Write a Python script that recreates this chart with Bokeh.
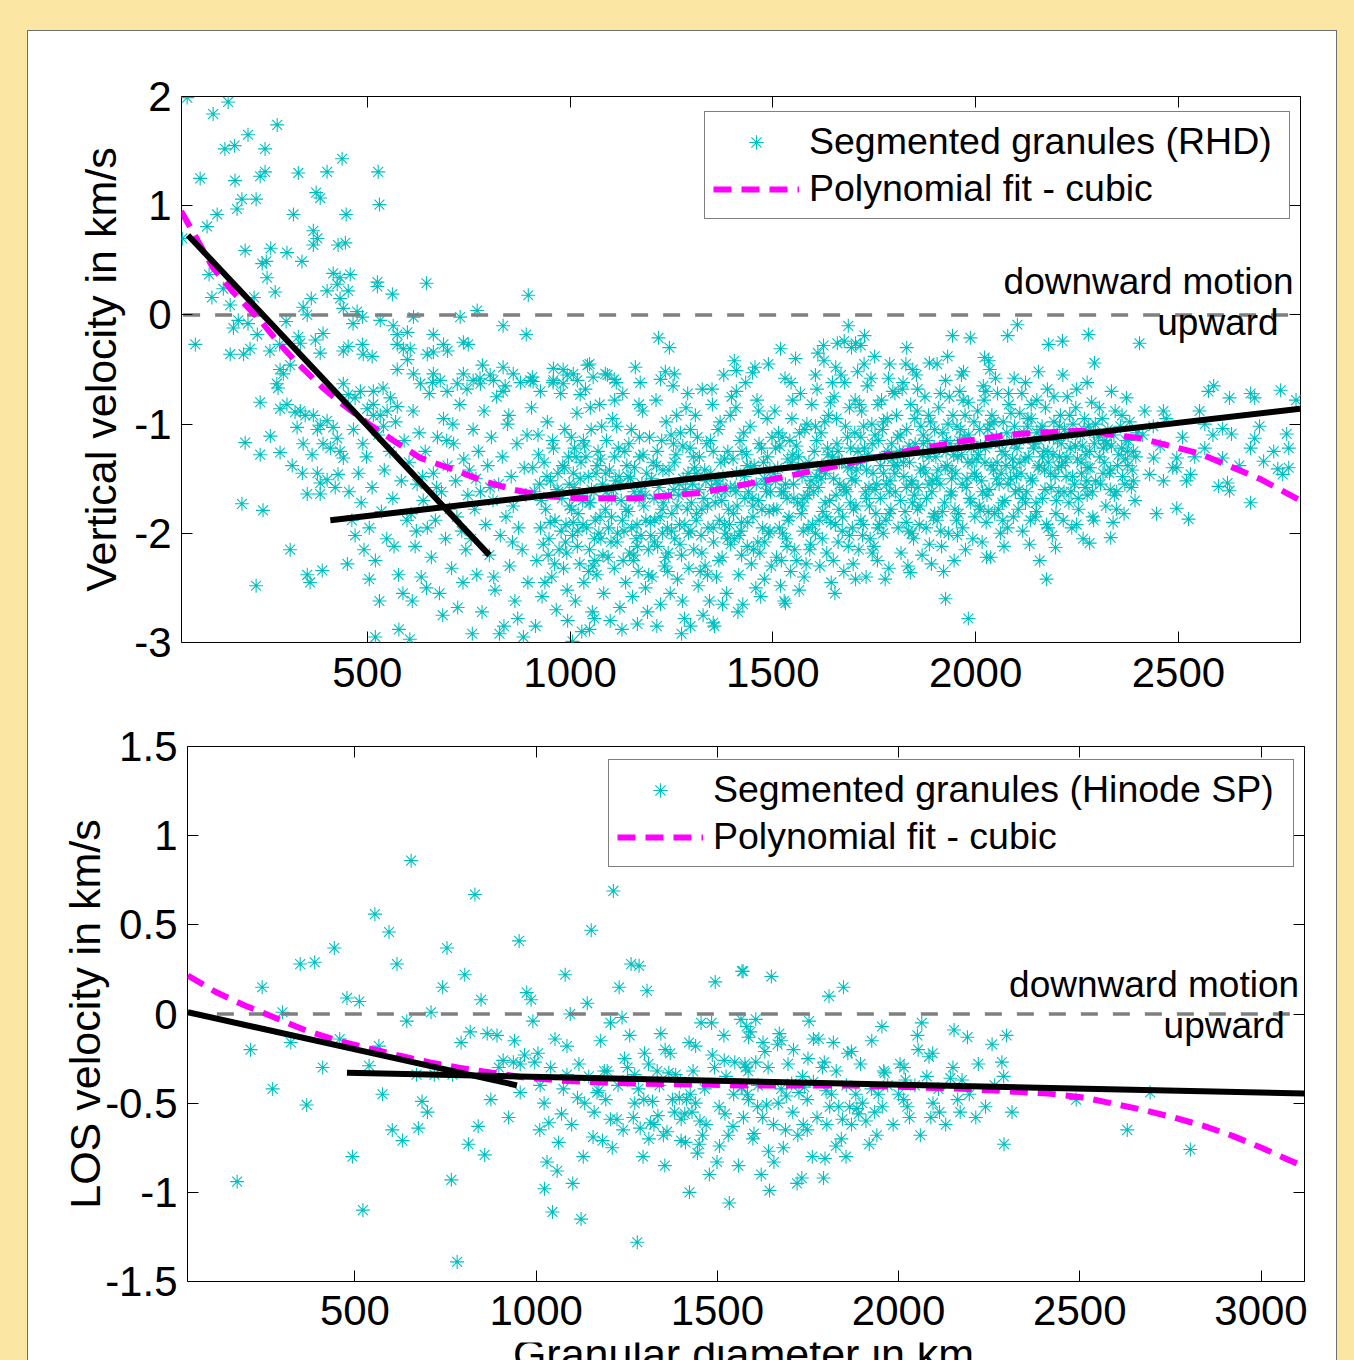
from bokeh.plotting import figure
from bokeh.models import Range1d, LinearAxis, Legend, LegendItem, FixedTicker, Label
from bokeh.layouts import column, row
from bokeh.embed import file_html
from bokeh.resources import INLINE

FONT = "Liberation Sans"
CYAN = "#00BFBF"
MAGENTA = "#FF00FF"
GRAY = "#7F7F7F"
YELLOW = "#FCE6A4"

# ---------------- data: RHD (top panel) ----------------
rhd_upper_left = [(56,1.99),(120,1.84),(157,1.95),(149,1.52),(173,1.55),(206,1.65),(248,1.52),(278,1.74),(88,1.25),(174,1.23),
(236,1.27),(248,1.31),(330,1.30),(401,1.31),(438,1.43),(527,1.31),(191,1.06),(226,1.06),(179,0.97),(130,0.92),(105,0.81),(44,0.70),
(318,0.92),(374,1.12),(384,1.07),(448,0.92),(530,1.01),(367,0.77),(377,0.70),(367,0.64),(428,0.64),(446,0.66),(199,0.59),(262,0.61),
(302,0.57),(339,0.49),(241,0.47),(251,0.49),(253,0.34),(273,0.21),(110,0.37),(117,0.16),(145,0.24),(162,0.09),(221,0.16),(416,0.38),
(433,0.34),(458,0.37),(426,0.28),(401,0.22),(453,0.22),(433,0.15),(441,0.06),(525,0.30),(562,0.19),(525,0.26),(646,0.29),(897,0.18),
(342,0.07),(362,0.15),(475,0.03),(488,-0.02),(771,0.04),(729,-0.02),(76,-0.27),(170,-0.12),(182,-0.05),(206,-0.08),(229,-0.18),
(162,-0.36),(195,-0.36),(211,-0.31),(300,-0.06),(352,0.00),(465,-0.08),(532,-0.05),(564,-0.10),(574,-0.18),(599,-0.16),(614,-0.02),
(835,-0.10),(892,-0.18),(260,-0.33),(284,-0.27),(330,-0.20),(335,-0.26),(372,-0.23),(391,-0.17),(384,-0.35),(441,-0.33),(453,-0.29),
(488,-0.27),(490,-0.36),(512,-0.38),(574,-0.27),(589,-0.31),(606,-0.31),(599,-0.41),(663,-0.18),(688,-0.27),(698,-0.33),(663,-0.34),
(648,-0.36),(737,-0.25),(749,-0.27),(784,-0.46),(803,-0.55),(835,-0.48),(840,-0.65),(907,-0.57),(909,-0.61),(959,-0.49),(983,-0.50),
(993,-0.55),(1043,-0.46),(1018,-0.60)]

rhd_lower_left = [(285,-0.50),(293,-0.54),(310,-0.46),(280,-0.67),(277,-0.63),(285,-0.86),(302,-0.82),(322,-0.89),(335,-0.88),(347,-0.92),
(236,-0.80),(199,-1.17),(261,-1.11),(236,-1.28),(285,-1.26),(315,-1.38),(340,-1.45),(352,-1.64),(384,-1.64),(191,-1.73),(243,-1.79),
(310,-2.15),(352,-2.38),(359,-2.45),(389,-2.34),(226,-2.48),(451,-2.28),(327,-1.03),(367,-0.92),(384,-1.01),(377,-1.05),(401,-0.97),
(416,-1.03),(426,-1.13),(342,-1.18),(364,-1.28),(391,-1.18),(409,-1.22),(433,-1.25),(441,-1.31),(377,-1.45),(401,-1.51),(421,-1.58),
(384,-1.54),(428,-1.46),(441,-0.63),(453,-0.73),(470,-0.76),(483,-0.70),(500,-0.86),(515,-0.82),(532,-0.92),(549,-0.88),(574,-0.84),
(515,-0.70),(539,-0.67),(557,-0.76),(574,-0.50),(614,-0.54),(631,-0.63),(663,-0.54),(680,-0.60),(697,-0.70),(722,-0.63),(737,-0.54),
(761,-0.60),(779,-0.63),(811,-0.60),(835,-0.70),(860,-0.54),(902,-0.60),(927,-0.70),(959,-0.60),(983,-0.63),(1008,-0.54),(1025,-0.73),
(1057,-0.57),(520,-2.95),(578,-2.88),(605,-2.97),
(455,-1.62),(462,-1.88),(470,-2.02),(478,-1.45),(485,-1.72),(492,-2.15),(498,-1.30),(505,-1.95),(512,-1.58),(520,-2.25),(527,-1.10),
(535,-1.80),(542,-1.42),(548,-2.05),(556,-1.25),(563,-1.68),(570,-0.98),(577,-2.38),(584,-1.52),(591,-1.15),(598,-1.88),(466,-1.05),
(489,-1.18),(515,-0.92),(540,-1.02),(566,-2.12),(588,-2.55),(530,-2.62),(505,-2.42),
(603,-1.35),(608,-1.82),(613,-0.88),(618,-2.12),(623,-1.55),(628,-1.08),(633,-2.40),(638,-1.70),(643,-1.25),(648,-1.95),(653,-0.72),
(658,-2.22),(663,-1.45),(668,-1.88),(673,-1.12),(678,-2.55),(683,-1.62),(688,-0.95),(693,-2.05),(698,-1.38),(703,-1.78),(708,-2.32),
(713,-1.18),(718,-1.52),(723,-2.68),(728,-0.82),(733,-1.98),(738,-1.32),(743,-2.15),(748,-1.65),(611,-2.62),(636,-1.48),(661,-0.62),
(686,-2.75),(711,-1.00),(736,-2.45),(621,-1.98),(646,-2.50),(671,-1.58),(696,-1.15),(721,-1.85),(746,-0.68),
(752,-1.42),(756,-2.05),(761,-1.05),(765,-1.78),(770,-2.38),(774,-1.25),(779,-1.62),(783,-2.72),(788,-0.88),(792,-1.92),(797,-1.38),
(801,-2.20),(806,-1.12),(810,-1.70),(815,-2.52),(819,-0.75),(824,-1.55),(828,-2.02),(833,-1.30),(837,-2.85),(842,-1.85),(846,-1.00),
(851,-2.30),(855,-1.48),(860,-1.75),(864,-2.62),(869,-1.18),(873,-1.95),(878,-0.62),(882,-2.15),(887,-1.40),(891,-1.65),(896,-2.45),
(759,-2.92),(778,-0.58),(803,-1.58),(826,-2.92),(849,-0.92),(871,-2.78),(894,-1.10),(768,-1.50),(812,-2.40),(858,-2.08),(885,-2.95)]

rhd_core_a = [(905,-0.85),(912,-1.62),(918,-2.25),(921,-1.10),(927,-1.95),(931,-2.58),(936,-1.35),(940,-1.78),(944,-0.98),(948,-2.05),
(952,-1.52),(955,-2.40),(959,-1.22),(963,-1.88),(966,-2.70),(970,-1.45),(973,-2.15),(977,-0.72),(980,-1.68),(984,-2.32),(987,-1.05),
(990,-1.92),(993,-2.52),(996,-1.30),(999,-1.75),(908,-1.40),(925,-1.55),(946,-2.20),(968,-1.60),(989,-2.08),(915,-2.85),(958,-0.62),
(938,-2.45),(982,-1.38),(994,-2.80),
(1003,-1.12),(1006,-2.02),(1010,-1.58),(1013,-2.62),(1017,-0.90),(1020,-1.82),(1024,-2.28),(1027,-1.35),(1031,-1.70),(1034,-2.45),
(1038,-0.68),(1041,-1.95),(1045,-1.48),(1048,-2.15),(1052,-1.05),(1055,-2.72),(1059,-1.62),(1062,-1.88),(1066,-2.38),(1069,-1.25),
(1073,-0.82),(1076,-2.05),(1080,-1.55),(1083,-2.55),(1087,-1.78),(1090,-1.15),(1094,-2.22),(1097,-1.42),(1008,-1.90),(1029,-2.90),
(1050,-1.72),(1071,-2.00),(1092,-0.55),(1015,-1.30),(1036,-1.20),(1057,-2.30),(1078,-1.02),(1099,-2.80),(1022,-1.65),(1064,-1.45),
(1102,-1.85),(1105,-0.95),(1109,-2.32),(1112,-1.52),(1116,-2.08),(1119,-1.22),(1123,-2.68),(1126,-1.70),(1130,-0.72),(1133,-1.98),
(1137,-2.45),(1140,-1.38),(1144,-1.80),(1147,-2.18),(1151,-1.05),(1154,-2.58),(1158,-1.62),(1161,-0.48),(1165,-1.92),(1168,-2.35),
(1172,-1.30),(1175,-2.02),(1179,-0.88),(1182,-1.75),(1186,-2.50),(1189,-1.45),(1193,-2.15),(1196,-1.12),(1107,-1.60),(1128,-2.88),
(1149,-1.50),(1170,-1.68),(1191,-2.72),(1114,-0.62),(1135,-1.25),(1156,-2.25),(1177,-1.55),(1198,-1.90),(1121,-1.48),(1163,-2.05),
(1202,-2.40),(1205,-1.35),(1209,-1.88),(1212,-0.78),(1216,-2.12),(1219,-1.58),(1223,-2.65),(1226,-1.15),(1230,-1.72),(1233,-2.30),
(1237,-0.98),(1240,-1.95),(1244,-1.42),(1247,-2.55),(1251,-1.82),(1254,-0.65),(1258,-2.05),(1261,-1.28),(1265,-2.42),(1268,-1.65),
(1272,-1.08),(1275,-2.20),(1279,-1.50),(1282,-2.78),(1286,-0.85),(1289,-1.78),(1293,-2.32),(1296,-1.22),(1207,-1.68),(1228,-2.00),
(1249,-1.10),(1270,-1.92),(1291,-1.45),(1214,-2.85),(1235,-0.52),(1256,-1.60),(1277,-2.62),(1298,-1.98),(1242,-2.18),(1263,-0.92),
(1302,-1.55),(1305,-2.15),(1309,-0.92),(1312,-1.82),(1316,-2.48),(1319,-1.30),(1323,-2.02),(1326,-0.68),(1330,-1.68),(1333,-2.30),
(1337,-1.18),(1340,-1.95),(1344,-2.62),(1347,-1.45),(1351,-0.82),(1354,-2.08),(1358,-1.72),(1361,-2.40),(1365,-1.05),(1368,-1.88),
(1372,-1.35),(1375,-2.22),(1379,-0.55),(1382,-1.62),(1386,-2.55),(1389,-1.25),(1393,-1.92),(1396,-2.10),(1307,-1.40),(1328,-2.75),
(1349,-1.58),(1370,-0.98),(1391,-1.78),(1314,-1.12),(1335,-1.52),(1356,-2.85),(1377,-1.48),(1398,-0.75),(1321,-2.35),(1363,-1.62),
(1384,-2.00),
(1402,-1.32),(1405,-2.05),(1409,-0.85),(1412,-1.75),(1416,-2.38),(1419,-1.15),(1423,-1.90),(1426,-2.65),(1430,-1.48),(1433,-0.62),
(1437,-2.12),(1440,-1.62),(1444,-1.02),(1447,-2.28),(1451,-1.85),(1454,-1.38),(1458,-2.50),(1461,-0.78),(1465,-1.70),(1468,-2.18),
(1472,-1.22),(1475,-1.95),(1479,-2.42),(1482,-1.55),(1486,-0.95),(1489,-2.00),(1493,-1.42),(1496,-2.30),(1407,-1.58),(1428,-1.08),
(1449,-1.68),(1470,-2.58),(1491,-1.80),(1414,-2.72),(1435,-1.28),(1456,-0.48),(1477,-1.35),(1498,-1.12),(1421,-1.98),(1463,-2.08),
(1484,-1.62)]

rhd_core_b = [(1502,-1.78),(1505,-0.88),(1509,-2.22),(1512,-1.40),(1516,-1.95),(1519,-2.48),(1523,-1.12),(1526,-1.62),(1530,-0.58),
(1533,-2.05),(1537,-1.32),(1540,-1.85),(1544,-2.35),(1547,-0.95),(1551,-1.55),(1554,-2.15),(1558,-1.20),(1561,-1.72),(1565,-2.52),
(1568,-0.72),(1572,-1.48),(1575,-1.98),(1579,-1.05),(1582,-2.28),(1586,-1.65),(1589,-1.35),(1593,-2.10),(1596,-0.82),(1507,-1.52),
(1528,-2.62),(1549,-1.28),(1570,-1.82),(1591,-1.58),(1514,-1.08),(1535,-1.68),(1556,-0.40),(1577,-2.40),(1598,-1.92),(1521,-2.25),
(1542,-1.15),(1563,-1.42),(1584,-1.00),
(1602,-1.25),(1605,-2.00),(1609,-0.68),(1612,-1.58),(1616,-2.30),(1619,-1.08),(1623,-1.80),(1626,-0.42),(1630,-1.45),(1633,-2.18),
(1637,-0.92),(1640,-1.70),(1644,-2.45),(1647,-1.30),(1651,-0.75),(1654,-1.92),(1658,-1.18),(1661,-2.08),(1665,-1.55),(1668,-0.55),
(1672,-1.85),(1675,-2.35),(1679,-1.02),(1682,-1.62),(1686,-2.12),(1689,-0.85),(1693,-1.40),(1696,-1.95),(1607,-1.48),(1628,-0.98),
(1649,-2.25),(1670,-1.35),(1691,-1.72),(1614,-1.88),(1635,-1.22),(1656,-1.65),(1677,-0.62),(1698,-2.28),(1621,-1.38),(1642,-0.80),
(1663,-1.78),(1684,-1.12),(1611,-0.35),(1653,-2.55),(1695,-1.50),
(1702,-1.08),(1705,-1.75),(1709,-0.52),(1712,-2.15),(1716,-1.35),(1719,-0.88),(1723,-1.92),(1726,-1.22),(1730,-2.40),(1733,-0.65),
(1737,-1.58),(1740,-2.05),(1744,-1.00),(1747,-1.45),(1751,-0.38),(1754,-1.82),(1758,-2.25),(1761,-1.15),(1765,-1.68),(1768,-0.78),
(1772,-2.00),(1775,-1.30),(1779,-1.88),(1782,-0.95),(1786,-2.32),(1789,-1.52),(1793,-1.18),(1796,-0.70),(1707,-1.42),(1728,-1.62),
(1749,-2.12),(1770,-1.05),(1791,-1.78),(1714,-0.82),(1735,-1.28),(1756,-1.55),(1777,-2.42),(1798,-1.38),(1721,-2.02),(1742,-0.58),
(1763,-1.92),(1784,-1.25),(1717,-0.28),(1752,-1.10),(1788,-0.45),
(1802,-1.62),(1805,-0.92),(1809,-1.95),(1812,-1.25),(1816,-2.18),(1819,-0.68),(1823,-1.48),(1826,-1.80),(1830,-1.05),(1833,-2.30),
(1837,-1.35),(1840,-0.82),(1844,-1.72),(1847,-2.05),(1851,-1.18),(1854,-0.55),(1858,-1.58),(1861,-1.92),(1865,-1.02),(1868,-2.20),
(1872,-1.40),(1875,-0.75),(1879,-1.68),(1882,-1.15),(1886,-2.10),(1889,-0.98),(1893,-1.52),(1896,-1.85),(1807,-1.38),(1828,-0.45),
(1849,-1.65),(1870,-1.28),(1891,-2.28),(1814,-1.10),(1835,-1.98),(1856,-0.88),(1877,-1.45),(1898,-1.22),(1821,-0.62),(1842,-1.55),
(1863,-1.75),(1884,-0.92),
(1902,-1.30),(1905,-1.88),(1909,-0.85),(1912,-1.55),(1916,-2.12),(1919,-1.08),(1923,-1.72),(1926,-0.60),(1930,-1.38),(1933,-2.00),
(1937,-1.18),(1940,-1.62),(1944,-0.92),(1947,-2.25),(1951,-1.45),(1954,-1.02),(1958,-1.82),(1961,-0.70),(1965,-1.28),(1968,-1.95),
(1972,-1.12),(1975,-2.15),(1979,-1.50),(1982,-0.80),(1986,-1.68),(1989,-1.22),(1993,-2.05),(1996,-0.98),(1907,-1.42),(1928,-1.15),
(1949,-1.78),(1970,-0.52),(1991,-1.35),(1914,-1.98),(1935,-0.75),(1956,-1.30),(1977,-1.58),(1998,-1.85),(1921,-2.35),(1942,-1.42),
(1963,-1.05)]

rhd_core_c = [(2002,-1.48),(2005,-0.88),(2009,-1.75),(2012,-1.20),(2016,-2.08),(2019,-0.65),(2023,-1.35),(2026,-1.90),(2030,-1.05),
(2033,-1.60),(2037,-2.22),(2040,-0.92),(2044,-1.42),(2047,-1.82),(2051,-1.12),(2054,-0.72),(2058,-1.55),(2061,-2.00),(2065,-1.25),
(2068,-0.98),(2072,-1.70),(2075,-1.38),(2079,-1.95),(2082,-0.82),(2086,-1.50),(2089,-1.15),(2093,-1.85),(2096,-1.02),(2007,-1.28),
(2028,-1.65),(2049,-0.58),(2070,-2.12),(2091,-1.32),(2014,-1.52),(2035,-1.00),(2056,-1.78),(2077,-1.08),(2098,-1.62),(2021,-0.78),
(2063,-1.45),
(2102,-1.22),(2105,-1.78),(2109,-0.90),(2112,-1.45),(2116,-1.98),(2119,-1.08),(2123,-0.62),(2126,-1.62),(2130,-1.30),(2133,-2.10),
(2137,-0.95),(2140,-1.52),(2144,-1.18),(2147,-1.85),(2151,-0.78),(2154,-1.40),(2158,-2.25),(2161,-1.05),(2165,-1.68),(2168,-1.25),
(2172,-0.85),(2175,-1.92),(2179,-1.35),(2182,-1.12),(2186,-1.58),(2189,-2.02),(2193,-0.98),(2196,-1.48),(2107,-1.60),(2128,-1.02),
(2149,-1.72),(2170,-1.42),(2191,-1.28),(2114,-0.72),(2135,-1.88),(2156,-1.15),(2177,-0.68),(2198,-1.82),
(2202,-1.15),(2205,-1.62),(2209,-0.92),(2212,-1.38),(2216,-1.88),(2219,-1.05),(2223,-1.48),(2226,-0.75),(2230,-1.72),(2233,-1.22),
(2237,-1.95),(2240,-1.00),(2244,-1.55),(2247,-0.85),(2251,-1.32),(2254,-1.78),(2258,-1.10),(2261,-1.45),(2265,-2.05),(2268,-0.95),
(2272,-1.28),(2275,-1.65),(2279,-1.02),(2282,-1.40),(2286,-0.80),(2289,-1.85),(2293,-1.18),(2296,-1.52),(2207,-1.30),(2228,-1.10),
(2249,-1.92),(2270,-1.58),(2291,-1.08),
(2303,-1.12),(2308,-1.55),(2312,-0.95),(2317,-1.35),(2321,-1.75),(2326,-1.05),(2330,-1.45),(2335,-1.20),(2339,-1.90),(2344,-0.88),
(2348,-1.62),(2353,-1.28),(2357,-1.02),(2362,-1.48),(2366,-1.82),(2371,-1.15),(2375,-1.38),(2380,-0.98),(2384,-1.58),(2389,-1.25),
(2393,-1.70),(2398,-1.08),(2315,-1.22),(2342,-1.65),(2369,-1.32)]

rhd_core_d = [(922,-1.28),(929,-1.70),(934,-2.10),(943,-1.48),(951,-1.90),(957,-1.15),(962,-2.28),(971,-1.62),(978,-1.98),(986,-1.40),
(992,-2.18),(998,-1.55),(1004,-1.78),(1011,-1.22),(1018,-2.12),(1025,-1.50),(1032,-1.92),(1039,-1.30),(1046,-2.35),(1053,-1.60),
(1060,-2.05),(1067,-1.38),(1074,-1.85),(1081,-2.20),(1088,-1.45),(1095,-1.95),(1103,-1.68),(1110,-1.30),(1117,-2.00),(1124,-1.55),
(1131,-2.25),(1138,-1.78),(1145,-1.18),(1152,-1.95),(1159,-1.40),(1166,-2.12),(1173,-1.62),(1180,-1.28),(1187,-1.88),(1194,-2.38),
(1201,-1.50),(1208,-2.08),(1215,-1.25),(1222,-1.85),(1229,-1.42),(1236,-2.22),(1243,-1.65),(1250,-1.98),(1257,-1.35),(1264,-1.75),
(1271,-2.10),(1278,-1.20),(1285,-1.60),(1292,-2.00),(1299,-1.72),(1304,-1.30),(1311,-1.88),(1318,-1.60),(1325,-2.18),(1332,-1.42),
(1339,-1.75),(1346,-1.15),(1353,-1.95),(1360,-1.52),(1367,-2.25),(1374,-1.70),(1381,-1.32),(1388,-2.05),(1395,-1.58),(1403,-1.82),
(1410,-1.45),(1417,-2.02),(1424,-1.25),(1431,-1.68),(1438,-1.90),(1445,-1.40),(1452,-2.15),(1459,-1.55),(1466,-1.18),(1473,-1.78),
(1480,-2.08),(1487,-1.30),(1494,-1.62),(1503,-1.45),(1510,-1.78),(1517,-1.20),(1524,-2.00),(1531,-1.55),(1538,-1.88),(1545,-1.35),
(1552,-1.68),(1559,-2.25),(1566,-1.08),(1573,-1.75),(1580,-1.40),(1587,-1.95),(1594,-1.52),(1601,-1.62),(1608,-1.15),(1615,-1.42),
(1622,-2.05),(1629,-1.72),(1636,-1.28),(1643,-1.90),(1650,-1.50),(1657,-0.95),(1664,-1.35),(1671,-1.98),(1678,-1.60),(1685,-1.40),
(1692,-1.22),(1699,-1.78),(1703,-1.52),(1710,-1.25),(1717,-1.88),(1724,-1.02),(1731,-1.42),(1738,-1.75),(1745,-1.18),(1752,-1.60),
(1759,-1.95),(1766,-1.38),(1773,-0.98),(1780,-1.55),(1787,-1.82),(1794,-1.32),(1801,-1.45),(1808,-1.12),(1815,-1.70),(1822,-1.35),
(1829,-1.90),(1836,-1.20),(1843,-1.52),(1850,-0.95),(1857,-1.78),(1864,-1.42),(1871,-1.10),(1878,-1.95),(1885,-1.30),(1892,-1.62),
(1899,-1.05),(1904,-1.50),(1911,-1.22),(1918,-1.80),(1925,-1.40),(1932,-1.00),(1939,-1.65),(1946,-1.28),(1953,-1.88),(1960,-1.15),
(1967,-1.55),(1974,-0.92),(1981,-1.35),(1988,-1.72),(1995,-1.20),(2003,-1.32),(2010,-1.05),(2017,-1.62),(2024,-1.22),(2031,-1.80),
(2038,-1.38),(2045,-0.98),(2052,-1.50),(2059,-1.18),(2066,-1.72),(2073,-1.28),(2080,-1.55),(2087,-0.90),(2094,-1.40),(2101,-1.48),
(2108,-1.15),(2115,-1.68),(2122,-1.32),(2129,-0.95),(2136,-1.50),(2143,-1.22),(2150,-1.80),(2157,-1.38),(2164,-1.02),(2171,-1.60),
(2178,-1.25),(2185,-1.45),(2192,-1.12),(2199,-1.70),(2204,-1.40),(2211,-1.18),(2218,-1.62),(2225,-1.30),(2232,-0.92),(2239,-1.48),
(2246,-1.20),(2253,-1.68),(2260,-1.35),(2267,-1.05),(2274,-1.52),(2281,-1.25),(2288,-1.62),(2295,-1.00),(2306,-1.30),(2314,-1.45),
(2323,-1.18),(2332,-1.60),(2341,-1.10),(2350,-1.38),(2360,-1.22),(2368,-1.55),(2377,-1.15),(2386,-1.42),(2395,-1.30)]

rhd_core_e = [(1008,-1.45),(1019,-1.98),(1033,-1.15),(1047,-1.72),(1061,-2.25),(1075,-1.32),(1089,-1.62),(1101,-2.08),(1115,-1.02),
(1129,-1.88),(1143,-1.48),(1157,-2.20),(1171,-1.12),(1185,-1.65),(1199,-2.02),(1213,-1.38),(1227,-1.78),(1241,-2.35),(1255,-1.18),
(1269,-1.55),(1283,-1.92),(1297,-1.05),(1311,-1.45),(1325,-1.78),(1339,-2.38),(1353,-1.25),(1367,-1.55),(1381,-1.92),(1395,-0.92),
(1409,-1.62),(1423,-2.20),(1437,-1.38),(1451,-1.75),(1465,-0.88),(1479,-1.50),(1493,-1.98),(1507,-1.22),(1521,-1.62),(1535,-2.12),
(1549,-0.78),(1563,-1.30),(1577,-1.68),(1591,-2.15),(1605,-1.02),(1619,-1.50),(1633,-1.85),(1647,-0.62),(1661,-1.25),(1675,-1.58),
(1689,-2.02),(1703,-0.78),(1717,-1.12),(1731,-1.68),(1745,-2.18),(1759,-0.82),(1773,-1.45),(1787,-1.62),(1801,-0.72),(1815,-1.28),
(1829,-1.58),(1843,-2.00),(1857,-0.68),(1871,-1.18),(1885,-1.55),(1899,-1.82),(1913,-0.72),(1927,-1.25),(1941,-1.50),(1955,-2.02),
(1969,-0.78),(1983,-1.10),(1997,-1.45),(2011,-1.78),(2025,-0.70),(2039,-1.15),(2053,-1.35),(2067,-1.88),(2081,-0.72),(2095,-1.18),
(2109,-1.35),(2123,-1.72),(2137,-0.82),(2151,-1.08),(2165,-1.30),(2179,-1.95),(2193,-0.75),(2207,-1.02),(2221,-1.35),(2235,-1.62),
(2249,-0.68),(2263,-1.20),(2277,-1.40),(2291,-1.88),(2305,-0.85),(2319,-1.15),(2333,-1.42),(2347,-1.78),(2361,-0.92),(2375,-1.25),
(2389,-1.52),(1545,-0.62),(1605,-0.55),(1655,-0.48),(1725,-0.45),(1785,-0.58),(1845,-0.50),(1905,-0.45),(1965,-0.55),(2035,-0.50),
(2095,-0.58),(2155,-0.52),(2215,-0.55),(2275,-0.62),(2335,-0.70),(1410,-0.70),(1350,-0.68),(1290,-0.72),(1170,-0.82),(1110,-0.78),
(1050,-0.85)]

rhd_fringe = [(1218,-0.21),(1245,-0.30),(1519,-0.31),(1686,-0.10),(1676,-0.24),(1704,-0.26),(1726,-0.19),(1943,-0.19),(1987,-0.21),
(2079,-0.19),(2103,-0.09),(2180,-0.27),(2214,-0.24),(2278,-0.18),(2404,-0.26),(1048,-0.45),(1087,-0.54),(1109,-0.59),(1173,-0.62),
(1223,-0.59),(1257,-0.54),(1405,-0.42),(1410,-0.51),(1450,-0.53),(1489,-0.45),(1625,-0.28),(1659,-0.26),(1694,-0.30),(1830,-0.30),
(1886,-0.44),(1931,-0.38),(2022,-0.39),(2032,-0.42),(2293,-0.44),(2372,-0.76),(2587,-0.65),(2574,-0.70),(2626,-0.76),(2678,-0.72),
(2688,-0.76),(2752,-0.69),(2609,-1.04),(2631,-1.09),(2688,-1.13),(2767,-1.09),(2772,-1.22),(2710,-1.34),(2745,-1.41),(2621,-1.54),
(2599,-1.57),(2626,-1.61),(2678,-1.72),(2530,-1.46),(2496,-1.40),(2520,-1.52),(2446,-1.82),(2496,-1.77),(2525,-1.87),(2429,-1.46),
(2463,-1.52),(2486,-1.40),(2439,-1.31),(2496,-1.31),(2609,-1.31),(2565,-1.22),(2678,-1.22),(2417,-0.88),(2463,-0.88),(2552,-0.88),
(2565,-1.00),(2757,-1.46),(2772,-1.40),(1166,-2.83),(1060,-2.78),(1048,-2.88),(1275,-2.92),(1297,-2.85),(1353,-2.82),(1376,-2.65),
(1531,-2.64),(1926,-2.60),(1982,-2.78),(2175,-2.42),(1704,-2.42),(1839,-2.36),(2027,-2.22),(2281,-2.09),(2333,-2.04),(2197,-2.13),
(1006,-2.99),(2412,-1.10),(2438,-1.02),(2455,-1.20),(2470,-0.95),(2510,-1.12),(2540,-1.30),(2585,-1.10),(2650,-1.38),(2700,-1.02),
(2735,-1.25),(2790,-0.78)]

rhd_fit_x = [41,120,169,236,285,327,391,433,500,564,631,722,786,860,944,1018,1161,1319,1477,1625,1783,1943,2101,2259,2407,2552,2700,2801]
rhd_fit_y = [0.95,0.43,0.21,-0.05,-0.27,-0.44,-0.67,-0.80,-0.99,-1.15,-1.31,-1.43,-1.52,-1.60,-1.66,-1.68,-1.68,-1.63,-1.52,-1.41,-1.28,-1.17,-1.09,-1.06,-1.13,-1.27,-1.50,-1.70]
rhd_lin1_x = [58, 801]
rhd_lin1_y = [0.73, -2.20]
rhd_lin2_x = [409, 2800]
rhd_lin2_y = [-1.88, -0.86]
rhd_zero_x = [46, 2777]

# ---------------- data: Hinode SP (bottom panel) ----------------
sp_points_a = [(655,0.86),(831,0.67),(1213,0.69),(555,0.56),(594,0.46),(443,0.37),(349,0.28),(389,0.29),(616,0.28),(754,0.37),
(953,0.41),(1152,0.47),(803,0.22),(244,0.15),(742,0.15),(478,0.09),(512,0.07),(848,0.08),(974,0.12),(986,0.08),(1080,0.22),
(1141,0.06),(1262,0.28),(1284,0.27),(1229,0.15),(1306,0.13),(1494,0.18),(1568,0.24),(300,0.01),(643,-0.04),(710,0.01),(991,-0.04),
(1094,0.00),(1205,-0.05),(1237,-0.02),(1455,-0.05),(1484,-0.05),(1565,-0.03),(212,-0.20),(323,-0.16),(411,-0.30),(273,-0.42),
(367,-0.51),(458,-0.14),(566,-0.18),(539,-0.29),(576,-0.45),(685,-0.49),(700,-0.55),(603,-0.65),(631,-0.71),(675,-0.64),(493,-0.80),
(175,-0.94),(522,-1.10),(766,-0.93),(782,-1.39),(813,-0.73),(858,-0.79),(840,-0.63),(875,-0.48),(924,-0.58),(956,-0.44),(818,-0.10),
(865,-0.11),(892,-0.12),(793,-0.16),(940,-0.15),(1052,-0.14),(909,-0.26),(937,-0.27),(968,-0.23),(996,-0.27),(1011,-0.40),(1075,-0.42),
(1114,-0.47),(1134,-0.50),(1173,-0.43),(1035,-0.61),(1070,-0.56),(1010,-0.65),(1030,-0.83),(1058,-0.88),(1023,-0.98),(1101,-0.95),
(1045,-1.11),(1124,-1.15),(1157,-0.69),(1183,-0.71),(1205,-0.59),(1223,-0.59),(1279,-1.28),(1244,-0.25),(1252,-0.30),(1272,-0.34),
(1196,-0.32),(1299,-0.22),(1344,-0.11),(1356,-0.20),(1422,-0.16),(1334,-0.32),(1366,-0.33),(1385,-0.34),(1433,-0.32),(1486,-0.23),
(1519,-0.26),(1548,-0.27),(1578,-0.30),(1272,-0.50),(1297,-0.48),(1321,-0.49),(1376,-0.48),(1395,-0.47),(1415,-0.48),(1440,-0.50),
(1336,-0.57),(1316,-0.61),(1410,-0.56),(1400,-0.59),(1430,-0.55),(1287,-0.64),(1311,-0.70),(1351,-0.68),(1361,-0.66),(1400,-0.71),
(1445,-0.78),(1450,-0.73),(1459,-0.68),(1469,-0.62),(1521,-0.56),(1543,-0.63),(1506,-0.74),(1499,-0.83),(1423,-1.00),(1533,-1.06),
(1524,-0.35),(1568,-0.41),(1583,-0.45),(1085,-0.34),(1168,-0.44),(1252,-0.37),(1188,-0.32),(670,-0.34),(719,-0.34),(769,-0.34),
(897,-0.30),(956,-0.28)]

sp_points_b = [(1571,0.24),(1649,0.21),(1808,0.10),(1848,0.15),(1753,-0.04),(1606,-0.03),(1581,-0.07),(1591,-0.10),(1586,-0.13),
(1626,-0.16),(1631,-0.21),(1606,-0.27),(1671,-0.11),(1676,-0.15),(1666,-0.17),(1710,-0.20),(1750,-0.25),(1765,-0.14),(1780,-0.14),
(1820,-0.16),(1795,-0.27),(1860,-0.22),(1870,-0.21),(1926,-0.15),(1954,-0.07),(2004,-0.28),(1962,-0.33),(2052,-0.12),(2054,-0.20),
(2064,-0.05),(2084,-0.24),(2094,-0.22),(2153,-0.09),(2190,-0.13),(2258,-0.17),(2298,-0.12),(2285,-0.27),(1566,-0.41),(1576,-0.28),
(1586,-0.48),(1611,-0.52),(1636,-0.51),(1676,-0.42),(1690,-0.46),(1705,-0.39),(1725,-0.44),(1740,-0.41),(1765,-0.38),(1800,-0.43),
(1810,-0.52),(1835,-0.52),(1865,-0.52),(1885,-0.53),(1900,-0.50),(1845,-0.59),(1890,-0.56),(1934,-0.55),(1944,-0.45),(1959,-0.32),
(2014,-0.48),(2024,-0.52),(2019,-0.37),(2143,-0.36),(2175,-0.37),(2089,-0.58),(2113,-0.55),(2163,-0.48),(2213,-0.58),(2313,-0.55),
(1601,-0.67),(1641,-0.77),(1656,-0.83),(1621,-0.90),(1644,-0.99),(1688,-0.65),(1737,-0.62),(1748,-0.65),(1720,-0.95),(1733,-0.92),
(1793,-0.92),(1797,-0.81),(1827,-0.74),(1855,-0.80),(1919,-0.73),(2291,-0.73),(2490,-0.48),(2631,-0.65),(2694,-0.44),(2805,-0.76)]

sp_points_c = [(1005,-0.22),(1022,-0.50),(1040,-0.30),(1062,-0.72),(1085,-0.18),(1098,-0.62),(1118,-0.28),(1130,-0.80),(1145,-0.35),
(1160,-0.55),(1178,-0.15),(1192,-0.48),(1210,-0.75),(1226,-0.40),(1240,-0.65),(1258,-0.12),(1268,-0.58),(1282,-0.42),(1295,-0.80),
(1310,-0.28),(1325,-0.62),(1340,-0.40),(1355,-0.85),(1370,-0.22),(1382,-0.55),(1398,-0.38),(1412,-0.72),(1425,-0.45),(1440,-0.18),
(1452,-0.60),(1465,-0.42),(1478,-0.90),(1492,-0.30),(1505,-0.52),(1518,-0.12),(1530,-0.68),(1545,-0.45),(1558,-0.85),(1572,-0.58),
(1585,-0.32),(1598,-0.70),(1612,-0.40),(1625,-0.58),(1640,-0.30),(1655,-0.62),(1668,-0.50),(1682,-0.75),(1695,-0.28),(1708,-0.55),
(1722,-0.68),(1735,-0.35),(1748,-0.48),(1762,-0.80),(1775,-0.58),(1790,-0.30),(1802,-0.62),(1815,-0.45),(1828,-0.32),(1842,-0.70),
(1856,-0.40),(1870,-0.62),(1882,-0.45),(1895,-0.28),(1910,-0.60),(1925,-0.42),(1940,-0.68),(1955,-0.52),(1970,-0.40),(1985,-0.62),
(2000,-0.45),(2015,-0.30),(2030,-0.58),(2045,-0.40),(2060,-0.68),(2078,-0.35),(2095,-0.50),(2110,-0.42),(2130,-0.62),(2150,-0.30),
(2170,-0.55),(2195,-0.45),(2220,-0.28),(2240,-0.52),(2265,-0.40),(2290,-0.35)]

sp_fit_x = [39,119,196,285,365,453,541,622,710,787,878,967,1064,1174,1271,1439,1566,1865,2163,2412,2511,2591,2682,2760,2840,2920,3000,3080,3120]
sp_fit_y = [0.216,0.12,0.048,-0.025,-0.093,-0.149,-0.194,-0.233,-0.273,-0.301,-0.329,-0.356,-0.373,-0.384,-0.390,-0.395,-0.401,-0.401,-0.418,-0.446,-0.468,-0.502,-0.541,-0.581,-0.626,-0.682,-0.749,-0.822,-0.855]
sp_lin1_x = [39, 947]
sp_lin1_y = [0.01, -0.40]
sp_lin2_x = [478, 3120]
sp_lin2_y = [-0.33, -0.446]
sp_zero_x = [119, 3086]

rhd_xticks = [500, 1000, 1500, 2000, 2500]
rhd_yticks = [-3, -2, -1, 0, 1, 2]
rhd_ytick_labels = ["-3", "-2", "-1", "0", "1", "2"]
sp_xticks = [500, 1000, 1500, 2000, 2500, 3000]
sp_yticks = [-1.5, -1, -0.5, 0, 0.5, 1, 1.5]
sp_ytick_labels = ["-1.5", "-1", "-0.5", "0", "0.5", "1", "1.5"]


def make_panel(points, fit_x, fit_y, l1x, l1y, l2x, l2y, zero_x, xr, yr, xticks, yticks, ylabels,
               ylabel, ylab_standoff, legend_label, legend_loc, legend_label_w, down_pos, up_pos,
               width, height, borders, xtick_standoff):
    p = figure(width=width, height=height, x_range=Range1d(*xr), y_range=Range1d(*yr),
               output_backend="svg", toolbar_location=None,
               min_border_top=borders[0], min_border_right=borders[1],
               min_border_bottom=borders[2], min_border_left=borders[3])
    p.background_fill_color = "white"
    p.border_fill_color = "white"
    p.outline_line_color = "black"
    p.outline_line_width = 1
    p.grid.visible = False

    xs = [pt[0] for pt in points]
    ys = [pt[1] for pt in points]
    r_pts = p.scatter(xs, ys, marker="asterisk", size=14, line_color=CYAN, line_width=1.1)
    p.line(zero_x, [0, 0], line_color=GRAY, line_width=3.5, line_dash="17 15")
    r_fit = p.line(fit_x, fit_y, line_color=MAGENTA, line_width=6, line_dash="18 10")
    p.line(l1x, l1y, line_color="black", line_width=6)
    p.line(l2x, l2y, line_color="black", line_width=6)

    xa = p.xaxis[0]
    ya = p.yaxis[0]
    xa.ticker = FixedTicker(ticks=xticks)
    ya.ticker = FixedTicker(ticks=yticks)
    ya.major_label_overrides = {t: s for t, s in zip(yticks, ylabels)}
    top = LinearAxis(ticker=FixedTicker(ticks=xticks), major_label_text_font_size="0px")
    right = LinearAxis(ticker=FixedTicker(ticks=yticks), major_label_text_font_size="0px")
    p.add_layout(top, "above")
    p.add_layout(right, "right")
    for ax in (xa, ya, top, right):
        ax.axis_line_color = None
        ax.major_tick_in = 11
        ax.major_tick_out = 0
        ax.minor_tick_in = 0
        ax.minor_tick_out = 0
        ax.major_tick_line_color = "black"
        ax.major_tick_line_width = 1
        ax.major_label_text_font = FONT
        ax.major_label_text_color = "black"
    top.major_label_standoff = 0
    right.major_label_standoff = 0
    xa.major_label_standoff = xtick_standoff
    ya.major_label_standoff = 10
    for ax in (xa, ya):
        ax.major_label_text_font_size = "42px"
    ya.axis_label = ylabel
    ya.axis_label_text_font = FONT
    ya.axis_label_text_font_size = "43px"
    ya.axis_label_text_font_style = "normal"
    ya.axis_label_text_color = "black"
    ya.axis_label_standoff = ylab_standoff

    for txt, pos in (("downward motion", down_pos), ("upward", up_pos)):
        p.add_layout(Label(x=pos[0], y=pos[1], text=txt, text_align="right", text_baseline="alphabetic",
                           text_font=FONT, text_font_size="37px", text_color="black"))

    legend = Legend(items=[LegendItem(label=legend_label, renderers=[r_pts]),
                           LegendItem(label="Polynomial fit - cubic", renderers=[r_fit])],
                    location=legend_loc, label_text_font=FONT, label_text_font_size="37.5px",
                    label_text_color="black",
                    glyph_width=86, glyph_height=36, label_height=36, label_width=legend_label_w,
                    label_standoff=10, padding=8, spacing=4, margin=0,
                    border_line_color="black", border_line_width=1,
                    background_fill_color="white", background_fill_alpha=1)
    p.add_layout(legend)
    return p


rhd_points = rhd_upper_left + rhd_lower_left + rhd_core_a + rhd_core_b + rhd_core_c + rhd_core_d + rhd_core_e + rhd_fringe
sp_points = sp_points_a + sp_points_b + sp_points_c

p1 = make_panel(rhd_points, rhd_fit_x, rhd_fit_y, rhd_lin1_x, rhd_lin1_y, rhd_lin2_x, rhd_lin2_y, rhd_zero_x,
                (42, 2801), (-3, 2), rhd_xticks, rhd_yticks, rhd_ytick_labels,
                "Vertical velocity in km/s", 6, "Segmented granules (RHD)", (523, 423), 472,
                (2784, 0.31), (2747, -0.073), 1308, 673, (65, 36, 62, 153), 15)

p2 = make_panel(sp_points, sp_fit_x, sp_fit_y, sp_lin1_x, sp_lin1_y, sp_lin2_x, sp_lin2_y, sp_zero_x,
                (38, 3120), (-1.5, 1.5), sp_xticks, sp_yticks, sp_ytick_labels,
                "LOS velocity in km/s", -7, "Segmented granules (Hinode SP)", (421, 414), 572,
                (3105, 0.165), (3066, -0.064), 1308, 638, (42, 32, 61, 159), 14)

# strip under the lower panel carrying its x-axis title (cut by the page edge as in the original)
p3 = figure(width=1308, height=18, x_range=Range1d(28, 1336), y_range=Range1d(0, 18),
            output_backend="svg", toolbar_location=None, x_axis_type=None, y_axis_type=None,
            min_border=0, min_border_left=0, min_border_right=0, min_border_top=0, min_border_bottom=0)
p3.outline_line_color = None
p3.grid.visible = False
p3.background_fill_color = "white"
p3.border_fill_color = "white"
p3.add_layout(Label(x=743, y=7, text="Granular diameter in km", text_align="center",
                    text_baseline="alphabetic", text_font=FONT, text_font_size="43px", text_color="black"))

inner = column(row(p1), row(p2), row(p3), margin=(30, 0, 0, 27),
               styles={"background-color": "white", "border-top": "1px solid #6E6E6E",
                       "border-left": "1px solid #6E6E6E", "border-right": "1px solid #6E6E6E"})
page = column(inner, width=1354, height=1360, styles={"background-color": YELLOW, "overflow": "hidden"})

open("out.html", "w").write(file_html(page, INLINE))
